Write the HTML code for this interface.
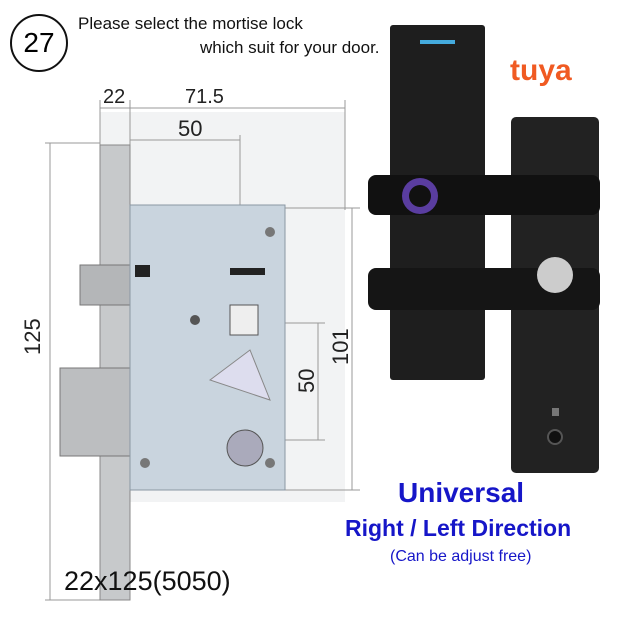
<!DOCTYPE html>
<html><head><meta charset="utf-8"><style>
body{margin:0;width:640px;height:640px;background:#fff;position:relative;overflow:hidden;font-family:"Liberation Sans",sans-serif}
.a{position:absolute;white-space:nowrap}
</style></head><body>
<div class="a" style="left:100px;top:112px;width:245px;height:390px;background:#f2f3f4"></div>
<div class="a" style="left:10px;top:14px;width:54px;height:54px;border:2px solid #111;border-radius:50%;text-align:center;line-height:54px;font-size:28px">27</div>
<div class="a" style="left:78px;top:14px;font-size:17px;color:#111">Please select the mortise lock</div>
<div class="a" style="left:200px;top:38px;font-size:17px;color:#111">which suit for your door.</div>
<svg class="a" style="left:0;top:0" width="640" height="640">
 <g stroke="#999" stroke-width="1" fill="none">
  <line x1="100" y1="100" x2="100" y2="145"/><line x1="130" y1="100" x2="130" y2="145"/>
  <line x1="100" y1="108" x2="345" y2="108"/><line x1="345" y1="100" x2="345" y2="210"/>
  <line x1="130" y1="140" x2="240" y2="140"/><line x1="240" y1="135" x2="240" y2="300"/>
  <line x1="45" y1="143" x2="100" y2="143"/><line x1="45" y1="600" x2="100" y2="600"/>
  <line x1="50" y1="143" x2="50" y2="600"/>
  <line x1="280" y1="208" x2="360" y2="208"/><line x1="280" y1="490" x2="360" y2="490"/>
  <line x1="352" y1="208" x2="352" y2="490"/>
  <line x1="270" y1="323" x2="325" y2="323"/><line x1="270" y1="440" x2="325" y2="440"/>
  <line x1="318" y1="323" x2="318" y2="440"/>
 </g>
 <text x="103" y="103" font-size="20" fill="#222" font-family="Liberation Sans">22</text>
 <text x="185" y="103" font-size="20" fill="#222" font-family="Liberation Sans">71.5</text>
 <text x="178" y="136" font-size="22" fill="#222" font-family="Liberation Sans">50</text>
 <text transform="translate(40,355) rotate(-90)" font-size="22" fill="#222" font-family="Liberation Sans">125</text>
 <text transform="translate(348,365) rotate(-90)" font-size="22" fill="#222" font-family="Liberation Sans">101</text>
 <text transform="translate(314,393) rotate(-90)" font-size="22" fill="#222" font-family="Liberation Sans">50</text>
 <rect x="100" y="145" width="30" height="455" fill="#c7c9cb" stroke="#888"/>
 <rect x="80" y="265" width="50" height="40" fill="#b4b6b8" stroke="#777"/>
 <rect x="60" y="368" width="70" height="88" fill="#bcbec0" stroke="#777"/>
 <rect x="130" y="205" width="155" height="285" fill="#c9d4de" stroke="#8a97a3"/>
 <circle cx="270" cy="232" r="5" fill="#777"/><circle cx="270" cy="463" r="5" fill="#777"/>
 <circle cx="195" cy="320" r="5" fill="#555"/><circle cx="145" cy="463" r="5" fill="#777"/>
 <rect x="230" y="305" width="28" height="30" fill="#eee" stroke="#555"/>
 <rect x="230" y="268" width="35" height="7" fill="#222"/>
 <rect x="135" y="265" width="15" height="12" fill="#222"/>
 <circle cx="245" cy="448" r="18" fill="#aab" stroke="#555"/>
 <polygon points="210,380 250,350 270,400" fill="#dde" stroke="#888"/>
 <rect x="511" y="117" width="88" height="356" rx="5" fill="#222"/>
 <rect x="390" y="25" width="95" height="355" rx="3" fill="#1e1e1e"/>
 <rect x="420" y="40" width="35" height="4" fill="#4ad"/>
 <rect x="368" y="175" width="232" height="40" rx="8" fill="#111"/>
 <circle cx="420" cy="196" r="18" fill="#5a3da0"/><circle cx="420" cy="196" r="11" fill="#111"/>
 <rect x="368" y="268" width="232" height="42" rx="8" fill="#151515"/>
 <circle cx="555" cy="275" r="18" fill="#ccc"/>
 <rect x="552" y="408" width="7" height="8" fill="#777"/>
 <circle cx="555" cy="437" r="7" fill="#111" stroke="#555" stroke-width="2"/>
 <text x="510" y="80" font-size="30" font-weight="bold" fill="#f05a22" font-family="Liberation Sans">tuya</text>
</svg>
<div class="a" style="left:398px;top:477px;font-size:28px;font-weight:bold;color:#1616c8">Universal</div>
<div class="a" style="left:345px;top:515px;font-size:23px;font-weight:bold;color:#1616c8">Right / Left Direction</div>
<div class="a" style="left:390px;top:548px;font-size:16px;color:#1616c8">(Can be adjust free)</div>
<div class="a" style="left:64px;top:566px;font-size:27px;color:#111">22x125(5050)</div>
</body></html>
